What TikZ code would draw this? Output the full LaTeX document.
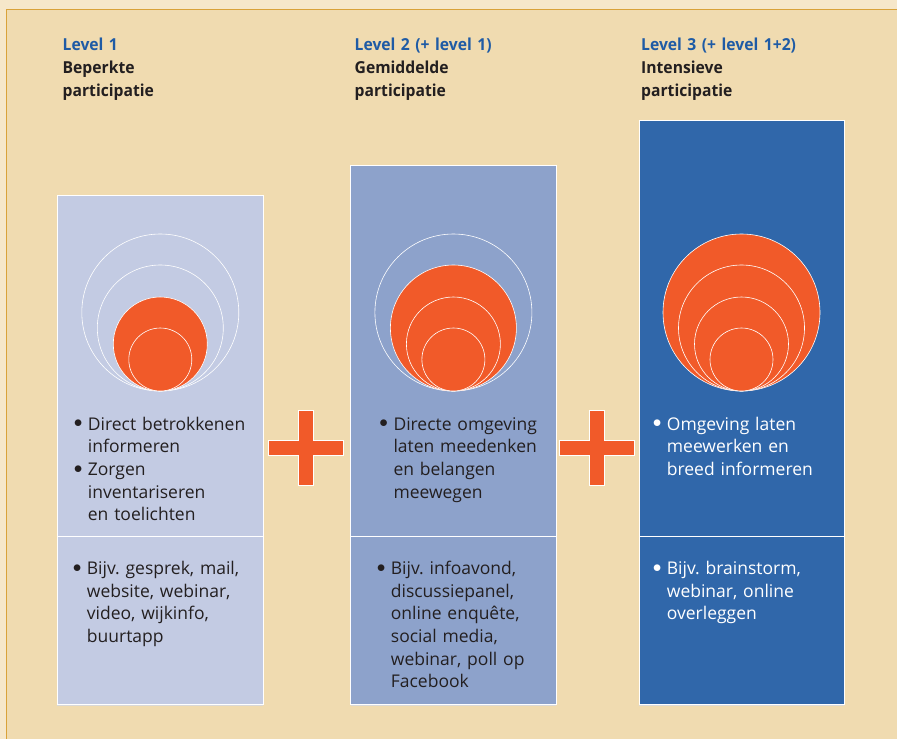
\documentclass[tikz,border=0pt]{standalone}
\usepackage{fontspec}
\setmainfont{Open Sans}
\newfontfamily\headfont{Open Sans}[FakeStretch=0.95]
\usetikzlibrary{positioning}

\definecolor{paper}{HTML}{F0DBB0}
\definecolor{paperlight}{HTML}{F6E7CA}
\definecolor{rim}{HTML}{D9A23A}
\definecolor{lvlone}{HTML}{C3CBE3}
\definecolor{lvltwo}{HTML}{8DA2CB}
\definecolor{lvlthree}{HTML}{3067AA}
\definecolor{plusorange}{HTML}{F15A29}
\definecolor{headblue}{HTML}{1F5BA5}
\definecolor{ink}{HTML}{231F20}

\newcommand{\bul}{\leavevmode\llap{\raisebox{2.3pt}{$\bullet$}\hspace{5.5pt}}}

\begin{document}
\begin{tikzpicture}[x=1pt,y=-1pt,
	column/.style={draw=white, line width=0.8pt},
	ring/.style={draw=white, line width=0.6pt},
	hot/.style={ring, fill=plusorange},
	head/.style={anchor=base west, inner sep=0pt, text width=220pt, align=left,
		font=\headfont\bfseries\fontsize{16.5}{23}\selectfont, text=ink},
	body/.style={anchor=base west, inner sep=0pt, text width=175pt, align=left,
		font=\fontsize{17.5}{22.7}\selectfont\frenchspacing, text=ink},
	plus/.style={hot}
	]
	\useasboundingbox (0,0) rectangle (897,739);
	% background and frame
	\fill[paperlight] (0,0) rectangle (897,739);
	\fill[paper] (6,9) rectangle (897,739);
	\draw[rim, line width=1pt] (897,9) -- (6,9) -- (6,739);

	% columns
	\foreach \l/\r/\t/\c in {57.3/263.3/195.7/lvlone, 350.7/556/165.7/lvltwo, 639/844/120.7/lvlthree}{
		\draw[black!15, line width=1pt] (\l,705.5) -- (\r,705.5);
		\filldraw[column, fill=\c] (\l,\t) rectangle (\r,704);
		\draw[column] (\l,536.7) -- (\r,536.7);
	}

	% circles, all touching at the bottom
	\foreach \x/\n in {160.3/2, 453.4/1, 741.5/0}{
		\foreach \rad [count=\i] in {78.5,63,47,31.5}{
			\ifnum\i>\n
				\draw[hot] (\x,391-\rad) circle (\rad);
			\else
				\draw[ring] (\x,391-\rad) circle (\rad);
			\fi
		}
	}

	% plus signs
	\foreach \px/\nm in {305.8/plusa, 596.5/plusb}{
		\coordinate (\nm) at (\px,447.7);
		\draw[plus] ([shift={(-7.3,-37.3)}]\nm) -- ([shift={(7.3,-37.3)}]\nm)
			-- ([shift={(7.3,-7.3)}]\nm) -- ([shift={(37.5,-7.3)}]\nm)
			-- ([shift={(37.5,7.3)}]\nm) -- ([shift={(7.3,7.3)}]\nm)
			-- ([shift={(7.3,37.3)}]\nm) -- ([shift={(-7.3,37.3)}]\nm)
			-- ([shift={(-7.3,7.3)}]\nm) -- ([shift={(-37.5,7.3)}]\nm)
			-- ([shift={(-37.5,-7.3)}]\nm) -- ([shift={(-7.3,-7.3)}]\nm) -- cycle;
	}

	% headings
	\node[head] (h1) at (62.5,50) {\textcolor{headblue}{Level 1}\\Beperkte\\participatie};
	\node[head] (h2) at (354.5,50) {\textcolor{headblue}{Level 2 (+ level 1)}\\Gemiddelde\\participatie};
	\node[head] (h3) at (641,50) {\textcolor{headblue}{Level 3 (+ level 1+2)}\\Intensieve\\participatie};

	% what is done
	\node[body] (d1) at (87.7,430) {\bul Direct betrokkenen\\informeren\par\bul Zorgen\\inventariseren\\en toelichten};
	\node[body] (d2) at (393.3,430) {\bul Directe omgeving\\laten meedenken\\en belangen\\meewegen};
	\node[body, text=white] (d3) at (666.7,430) {\bul Omgeving laten\\meewerken en\\breed informeren};

	% how it is done
	\node[body] (m1) at (86.7,574.3) {\bul Bijv. gesprek, mail,\\website, webinar,\\video, wijkinfo,\\buurtapp};
	\node[body] (m2) at (390.7,574.3) {\bul Bijv. infoavond,\\discussiepanel,\\online enquête,\\social media,\\webinar, poll op\\Facebook};
	\node[body, text=white] (m3) at (666.7,574.3) {\bul Bijv. brainstorm,\\webinar, online\\overleggen};
\end{tikzpicture}
\end{document}
